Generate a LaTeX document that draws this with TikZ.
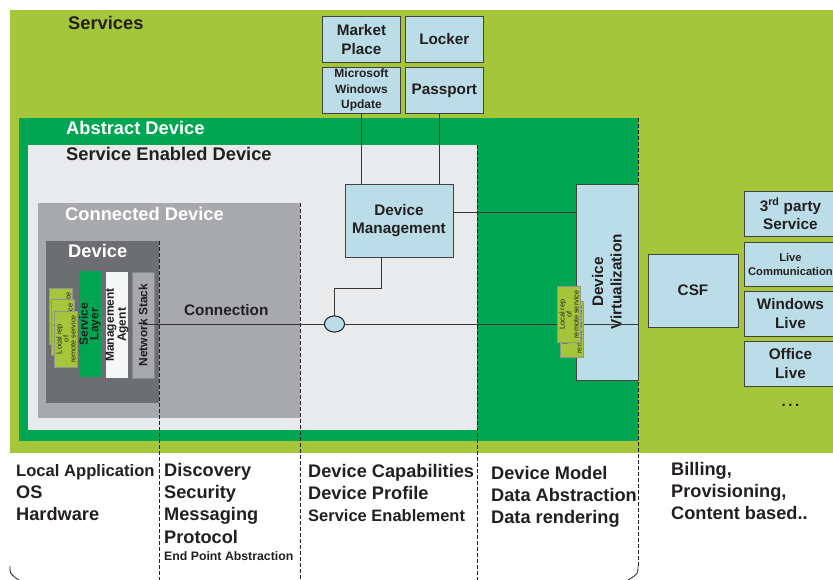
\documentclass[tikz,border=0pt]{standalone}
\usepackage{fontspec}
\setmainfont{Liberation Sans}
\usetikzlibrary{positioning,shapes.geometric}

\definecolor{svcgreen}{HTML}{A5C63B}
\definecolor{absgreen}{HTML}{00A651}
\definecolor{sedgray}{HTML}{E9EAEC}
\definecolor{condgray}{HTML}{A7A9AC}
\definecolor{devgray}{HTML}{6D6E71}
\definecolor{boxblue}{HTML}{BBDDE8}
\definecolor{inkgray}{HTML}{231F20}
\newcommand{\fsz}[2]{\fontsize{#1}{#2}\selectfont}

\begin{document}
\begin{tikzpicture}[
  x=1pt, y=-1pt,
  node distance=4pt,
  svcbox/.style={draw=inkgray!85, line width=0.9pt, fill=boxblue, align=center,
    text=inkgray, font=\fsz{15.3}{18.5}\bfseries, inner sep=1pt},
  rbox/.style={svcbox, rotate=90},
  stackbox/.style={rotate=90, align=center, inner sep=0pt, text=inkgray,
    font=\fsz{12}{10.5}\bfseries, minimum width=106pt, minimum height=22pt},
  localrep/.style={draw=gray!85, line width=0.8pt, fill=svcgreen, rotate=90,
    align=center, inner sep=0pt, font=\fsz{7.3}{7}, text=inkgray,
    minimum width=56pt, minimum height=23pt},
  tier/.style={anchor=base west, inner sep=0pt, font=\fsz{18.3}{22}\bfseries},
  notes/.style={anchor=base west, align=left, inner sep=0pt, text=inkgray,
    font=\fsz{18.2}{22.3}\bfseries},
  link/.style={draw=inkgray!90, line width=0.9pt},
  split/.style={draw=inkgray, line width=0.8pt, dash pattern=on 4pt off 2pt}
]
\clip (0,0) rectangle (833,580);

% nested regions
\fill[svcgreen] (10,10) rectangle (845,453);
\fill[absgreen] (19,118) rectangle (638,441);
\fill[sedgray] (28,145) rectangle (477,430);
\fill[condgray] (38,203) rectangle (300,418);
\fill[devgray] (46,241) rectangle (159,403);

\node[tier, text=inkgray] (svclabel) at (68,30) {Services};
\node[tier, text=white] (abslabel) at (66,135) {Abstract Device};
\node[tier, text=inkgray] (sedlabel) at (66,161) {Service Enabled Device};
\node[tier, text=white] (condlabel) at (65,221) {Connected Device};
\node[tier, text=white] (devlabel) at (68,258) {Device};

% column separators
\draw[split] (159,241) -- (159,580);
\draw[split] (300,203) -- (300,580);
\draw[split] (477,145) -- (477,580);
\draw[split] (638,118) -- (638,566);
\draw[link] (638,566) .. controls (638,574) .. (628,580);
\draw[link] (10,566) .. controls (10,574) .. (19,580);

% cloud services
\node[svcbox, minimum width=78pt, minimum height=46pt, anchor=north west] (market) at (322,16) {Market\\Place};
\node[svcbox, minimum width=78pt, minimum height=46pt, right=4pt of market] (locker) {Locker};
\node[svcbox, minimum width=78pt, minimum height=46pt, below=4pt of market,
  font=\fsz{12}{15.5}\bfseries] (mwu) {Microsoft\\Windows\\Update};
\node[svcbox, minimum width=78pt, minimum height=46pt, below=4pt of locker] (passport) {Passport};

\node[svcbox, minimum width=108pt, minimum height=73pt] (devmgmt) at (399,220.5) {Device\\Management};
\node[rbox, minimum width=196pt, minimum height=62pt] (devvirt) at (607,282) {Device\\Virtualization};
\node[svcbox, minimum width=90pt, minimum height=73pt] (csf) at (693,290.5) {CSF};

\node[svcbox, minimum width=92pt, minimum height=45pt, anchor=north west] (third) at (744,191) {3\textsuperscript{rd} party\\Service};
\node[svcbox, minimum width=92pt, minimum height=44pt, below=5pt of third,
  font=\fsz{11.2}{14}\bfseries] (livecomm) {Live\\Communication};
\node[svcbox, minimum width=92pt, minimum height=45pt, below=4pt of livecomm] (winlive) {Windows\\Live};
\node[svcbox, minimum width=92pt, minimum height=45pt, below=4pt of winlive] (officelive) {Office\\Live};
\node[below=17pt of officelive, inner sep=0pt, text=inkgray, font=\fsz{15}{15}\bfseries] (more) {.\,.\,.};

% device stack
\node[stackbox, fill=absgreen] (svclayer) at (90,324) {Service\\Layer};
\node[stackbox, fill=white!60!sedgray] (mgmtagent) at (117,325) {Management\\Agent};
\node[stackbox, fill=condgray, draw=condgray!80!black, line width=0.4pt] (netstack) at (143,325) {Network Stack};

% connection bus
\node[draw=inkgray, line width=0.9pt, fill=boxblue, ellipse, minimum width=20pt,
  minimum height=16pt, inner sep=0pt] (tap) at (334.5,324) {};
\node[anchor=base west, inner sep=0pt, text=inkgray, font=\fsz{15.3}{15}\bfseries] (connlabel) at (184,316) {Connection};
\draw[link] (netstack.east |- tap) -- (tap);
\draw[link] (tap) -- (tap -| devvirt.south);
\node[draw=inkgray, line width=0.9pt, fill=boxblue, ellipse, minimum width=20pt,
  minimum height=16pt, inner sep=0pt] at (tap) {};

\coordinate (bend) at (381,288);
\draw[link] (tap.north) |- (bend) -- (bend |- devmgmt.south);
\draw[link] (mwu.south) -- (mwu.south |- devmgmt.north);
\draw[link] ([xshift=-5pt]passport.south) -- ([xshift=-5pt]passport.south |- devmgmt.north);
\draw[link] ([yshift=8.5pt]devmgmt.east) -- ([yshift=8.5pt]devmgmt.east -| devvirt.north);

% local representatives
\foreach \i/\cx/\cy in {1/61/316, 2/63/327.5, 3/66/339}
  \node[localrep] (devrep\i) at (\cx,\cy) {Local rep\\of\\remote service};
\node[localrep] (virtrep2) at (572,329.5) {Local rep\\of\\remote service};
\node[localrep] (virtrep1) at (569,314.5) {Local rep\\of\\remote service};

% responsibilities per tier (base = last line)
\node[notes] (hwnotes) at (16,520.6) {{\fsz{16.6}{22.3}\bfseries Local Application}\\OS\\Hardware};
\node[notes] (netnotes) at (164,543) {Discovery\\Security\\Messaging\\Protocol};
\node[notes, font=\fsz{12.3}{14}\bfseries] (epnote) at (164,560) {End Point Abstraction};
\node[notes] (capnotes) at (308,521.6) {Device Capabilities\\Device Profile\\{\fsz{16.5}{22.3}\bfseries Service Enablement}};
\node[notes] (modelnotes) at (491,523.6) {Device Model\\Data Abstraction\\Data rendering};
\node[notes] (bizotes) at (671,519.6) {Billing,\\Provisioning,\\Content based..};
\end{tikzpicture}
\end{document}
